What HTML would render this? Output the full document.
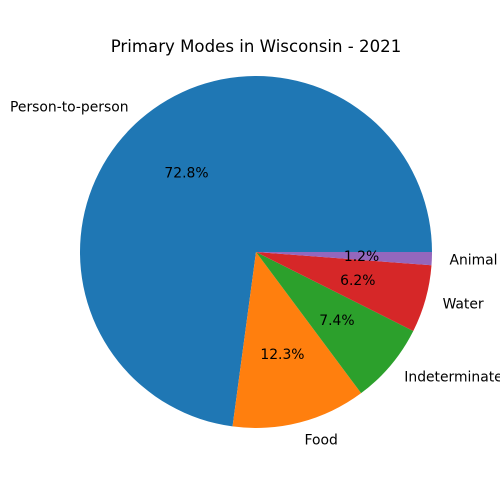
<!DOCTYPE html>
<html><head><meta charset="utf-8"><style>
body{margin:0;background:#fff}
svg{display:block;font-family:"DejaVu Sans","Liberation Sans",sans-serif}
</style></head><body>
<svg id="chart" width="500" height="500" viewBox="0 0 500 500">
<rect width="500" height="500" fill="#fff"/>
<text x="256" y="52" text-anchor="middle" font-size="16.6" fill="#000">Primary Modes in Wisconsin - 2021</text>
<g id="slices"></g>
</svg>
<script>
const categories = ["Person-to-person","Food","Indeterminate","Water","Animal"];
const values = [72.8,12.3,7.4,6.2,1.2];
const pctLabels = ["72.8%","12.3%","7.4%","6.2%","1.2%"];
const colors = ["#1f77b4","#ff7f0e","#2ca02c","#d62728","#9467bd"];
const cx=256, cy=252, r=176;
const ns="http://www.w3.org/2000/svg";
const g=document.getElementById('slices');
const total=values.reduce((a,b)=>a+b,0);
function pt(a,rr){return [cx+rr*Math.cos(a), cy-rr*Math.sin(a)];}
let start=0;
values.forEach((v,i)=>{
  const sweep=v/total*2*Math.PI, end=start+sweep;
  const p1=pt(start,r), p2=pt(end,r);
  const large=sweep>Math.PI?1:0;
  const path=document.createElementNS(ns,'path');
  path.setAttribute('d',`M${cx},${cy} L${p1[0]},${p1[1]} A${r},${r} 0 ${large} 0 ${p2[0]},${p2[1]} Z`);
  path.setAttribute('fill',colors[i]);
  
  
  g.appendChild(path);
  const mid=(start+end)/2;
  const lp=pt(mid,r*1.1);
  const t=document.createElementNS(ns,'text');
  t.setAttribute('x',lp[0]); t.setAttribute('y',lp[1]+5);
  t.setAttribute('font-size','13.9');
  t.setAttribute('text-anchor',Math.cos(mid)>=0?'start':'end');
  t.textContent=categories[i];
  
  
  g.appendChild(t);
  const pp=pt(mid,r*0.6);
  const t2=document.createElementNS(ns,'text');
  t2.setAttribute('x',pp[0]); t2.setAttribute('y',pp[1]+5);
  t2.setAttribute('font-size','13.9');
  t2.setAttribute('text-anchor','middle');
  t2.textContent=pctLabels[i];
  
  
  g.appendChild(t2);
  start=end;
});
</script>
</body></html>
